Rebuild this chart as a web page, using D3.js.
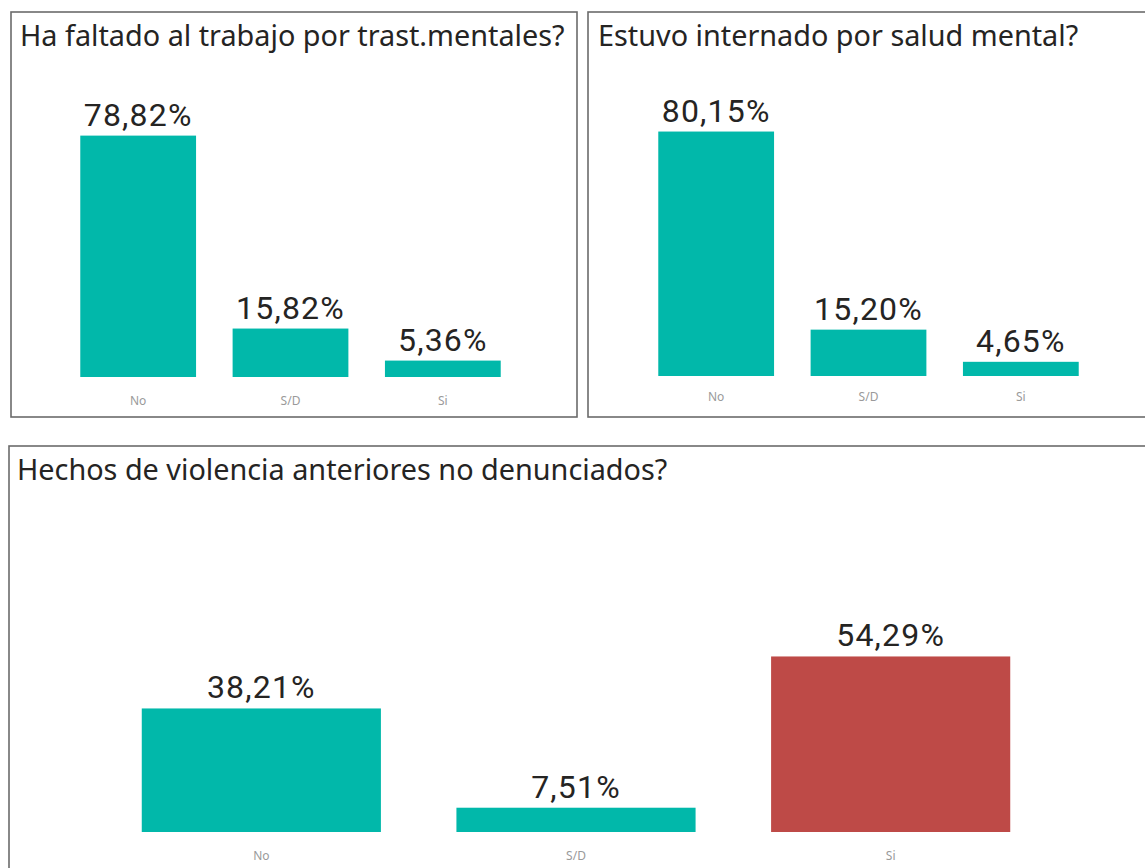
<!DOCTYPE html>
<html>
<head>
<meta charset="utf-8">
<script src="https://cdn.jsdelivr.net/npm/d3@7"></script>
<style>
  body { margin: 0; background: #fff; }
  svg { display: block; }
</style>
</head>
<body>
<svg id="chart" width="1145" height="868"></svg>
<script>
// data
var categories = ["No", "S/D", "Si"];
var faltadoValues = [78.82, 15.82, 5.36];
var internadoValues = [80.15, 15.20, 4.65];
var violenciaValues = [38.21, 7.51, 54.29];
var titles = [
    "Ha faltado al trabajo por trast.mentales?",
    "Estuvo internado por salud mental?",
    "Hechos de violencia anteriores no denunciados?"
];

var teal = "#01B8AA";
var red = "#BE4A47";

var svg = d3.select("#chart");

var fmt = function (v) { return d3.format(".2f")(v).replace(".", ",") + "%"; };

// one card = border + title + bars
function drawPanel(cfg) {
    var g = svg.append("g");

    g.append("rect")
        .attr("x", cfg.box[0]).attr("y", cfg.box[1])
        .attr("width", cfg.box[2]).attr("height", cfg.box[3])
        .attr("fill", "none")
        .attr("stroke", "#6b6b6b")
        .attr("stroke-width", 1.6);

    g.append("text")
        .attr("x", cfg.titlePos[0]).attr("y", cfg.titlePos[1])
        .attr("font-family", "'Segoe UI', 'Noto Sans', sans-serif")
        .attr("font-size", 28.8)
        .attr("fill", "#252423")
        .text(cfg.title);

    var x = d3.scaleBand()
        .domain(categories)
        .range(cfg.xRange)
        .paddingInner(0.24)
        .paddingOuter(0.12);

    var y = d3.scaleLinear()
        .domain([0, cfg.yMax])
        .range(cfg.yRange);

    var data = categories.map(function (c, i) { return { cat: c, value: cfg.values[i], color: cfg.colors[i] }; });

    g.selectAll("rect.bar")
        .data(data)
        .enter()
        .append("rect")
        .attr("class", "bar")
        .attr("x", function (d) { return x(d.cat); })
        .attr("y", function (d) { return y(d.value); })
        .attr("width", x.bandwidth())
        .attr("height", function (d) { return y(0) - y(d.value); })
        .attr("fill", function (d) { return d.color; });

    g.selectAll("text.val")
        .data(data)
        .enter()
        .append("text")
        .attr("class", "val")
        .attr("x", function (d) { return x(d.cat) + x.bandwidth() / 2; })
        .attr("y", function (d) { return y(d.value) - 10; })
        .attr("text-anchor", "middle")
        .attr("font-family", "Roboto, sans-serif")
        .attr("font-size", 32)
        .attr("letter-spacing", 1.2)
        .attr("fill", "#252423")
        .text(function (d) { return fmt(d.value); });

    // category axis, no line, no ticks
    var axis = g.append("g")
        .attr("transform", "translate(0," + cfg.yRange[0] + ")")
        .call(d3.axisBottom(x).tickSize(0).tickPadding(cfg.labelPad));
    axis.select(".domain").remove();
    axis.selectAll("text")
        .attr("font-family", "'Segoe UI', 'Noto Sans', sans-serif")
        .attr("font-size", 12)
        .attr("fill", "#9a9a9a");
}

drawPanel({
    title: titles[0],
    values: faltadoValues,
    colors: [teal, teal, teal],
    box: [11, 12, 566, 405],
    titlePos: [20, 46],
    xRange: [62, 519],
    yMax: 80,
    yRange: [377, 132],
    labelPad: 19
});

drawPanel({
    title: titles[1],
    values: internadoValues,
    colors: [teal, teal, teal],
    box: [588, 12, 620, 405],
    titlePos: [598, 46],
    xRange: [640, 1097],
    yMax: 80,
    yRange: [376, 132],
    labelPad: 16
});

drawPanel({
    title: titles[2],
    values: violenciaValues,
    colors: [teal, teal, red],
    box: [9, 446, 1200, 500],
    titlePos: [17, 480],
    xRange: [104, 1048],
    yMax: 60,
    yRange: [832, 638],
    labelPad: 19
});
</script>
</body>
</html>
